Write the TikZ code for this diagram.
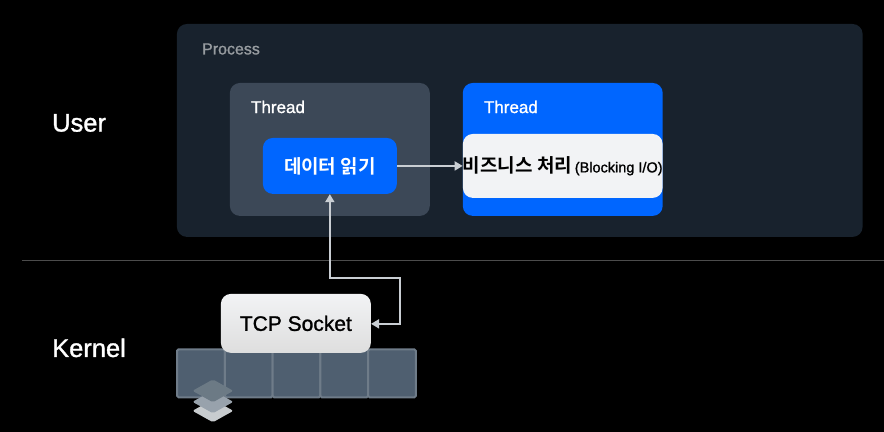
\documentclass[tikz,border=0pt]{standalone}
\usepackage{fontspec}
\setmainfont{Liberation Sans}[BoldFont=Liberation Sans,BoldFeatures={FakeBold=1.2}]
\newfontfamily\krfont{Noto Sans CJK KR}[BoldFont={* Bold}]
\usetikzlibrary{arrows.meta,positioning,shapes.geometric}
\definecolor{panelgray}{HTML}{18222D}
\definecolor{threadgray}{HTML}{3C4857}
\definecolor{mainblue}{HTML}{0066FF}
\definecolor{paperwhite}{HTML}{F2F3F5}
\definecolor{linegray}{HTML}{C9CED3}
\definecolor{cellblue}{HTML}{4F5F70}
\definecolor{celledge}{HTML}{6F7C89}
\definecolor{layertop}{HTML}{6C7A85}
\definecolor{layermid}{HTML}{98A2AC}
\definecolor{layerlow}{HTML}{C8CCCF}
\begin{document}
\begin{tikzpicture}[%
    x=1pt, y=-1pt,
    >={Triangle[length=8pt,width=9pt]},
    box/.style={rectangle, rounded corners=10pt, inner sep=0pt},
    thread/.style={box, minimum width=200pt, minimum height=133pt},
    zone/.style={text=white, inner sep=0pt, font=\bfseries\fontsize{25.5}{25.5}\selectfont, anchor=west},
    title/.style={text=white, inner sep=0pt, font=\bfseries\fontsize{17}{17}\selectfont, anchor=west},
    link/.style={draw=linegray, line width=1.8pt},
    cell/.style={rectangle, draw=celledge, fill=cellblue, line width=2pt, rounded corners=1.5pt, inner sep=0pt,
      minimum width=47.8pt, minimum height=48pt},
    layer/.style={diamond, inner sep=0pt, rounded corners=2pt, minimum width=41pt, minimum height=23pt}
  ]
    \path[fill=black] (0,0) rectangle (884,432);

    \node[zone] (user) at (52,123) {User};
    \node[zone] (kernel) at (52,348) {Kernel};
    \coordinate (sepleft) at (22,261);
    \coordinate (sepright) at (884,261);
    \draw[color=white!30!black, line width=.8pt] (sepleft) -- (sepright);

    \node[box, fill=panelgray, minimum width=686pt, minimum height=213pt] (process) at (520,130.5) {};
    \node[anchor=west, inner sep=0pt, text=white!55!panelgray, font=\bfseries\fontsize{16}{16}\selectfont] (processlabel) at (202,49) {Process};

    \node[thread, fill=threadgray] (threadA) at (330,149.5) {};
    \node[thread, fill=mainblue] (threadB) at (563,149.5) {};
    \node[title] (labelA) at (251,107) {Thread};
    \node[title] (labelB) at (484,107) {Thread};

    \node[box, fill=mainblue, minimum width=134pt, minimum height=56pt, text=white,
      font=\krfont\bfseries\fontsize{19}{19}\selectfont] (read) at (330,166) {데이터 읽기};
    \node[box, fill=paperwhite, minimum width=154pt, minimum height=64pt, text=black, align=center] (work) at (563,166)
      {{\krfont\bfseries\fontsize{19}{22}\selectfont 비즈니스 처리\par}
       {\bfseries\fontsize{14.5}{18}\selectfont (Blocking I/O)\par}};

    % queue under the socket
    \foreach \i in {0,...,4}
      \node[cell] (cell\i) at (201+47.8*\i,373.5) {};

    \node[box, top color=paperwhite, bottom color=white!87!black, minimum width=150pt, minimum height=59pt,
      text=black, font=\bfseries\fontsize{21}{21}\selectfont] (socket) at (296,323.5) {TCP Socket};

    \node[layer, fill=layerlow] (layerC) at (213,411) {};
    \node[layer, fill=layermid] (layerB) at (213,402) {};
    \node[layer, fill=layertop] (layerA) at (213,391) {};

    \coordinate (bendA) at (330,278);
    \coordinate (bendB) at (400,278);
    \coordinate (bendC) at (400,324);
    \draw[link, <->] (read.south) -- (bendA) -- (bendB) -- (bendC) -- (socket.east |- bendC);
    \draw[link, ->] (read) -- (work);
  \end{tikzpicture}
\end{document}
